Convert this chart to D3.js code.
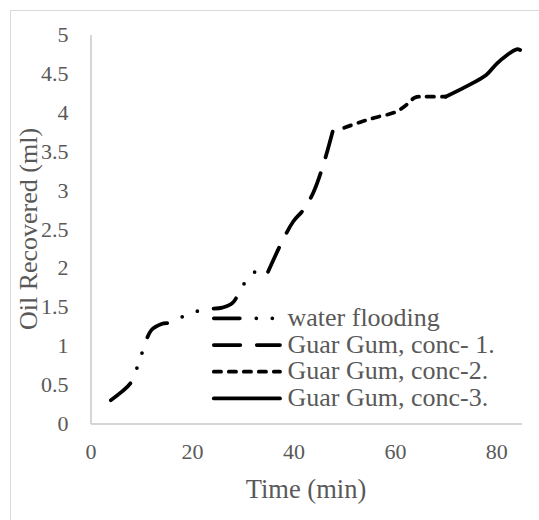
<!DOCTYPE html>
<html><head><meta charset="utf-8">
<script src="https://cdn.jsdelivr.net/npm/d3@7"></script>
<style>
html,body{margin:0;padding:0;background:#fff;}
svg{display:block;}
text{font-family:"Liberation Serif","Times New Roman",serif;fill:#595959;}
</style></head>
<body>
<script>
// ---- data ----
const seriesNames = ["water flooding", "Guar Gum, conc- 1.", "Guar Gum, conc-2.", "Guar Gum, conc-3."];
const waterTime = [4, 6, 8, 10, 12, 14, 16, 18, 22, 26, 28, 30, 32, 34];
const waterOil  = [0.3, 0.4, 0.53, 0.88, 1.2, 1.28, 1.3, 1.37, 1.46, 1.49, 1.55, 1.77, 1.93, 2.0];
const conc1Time = [35, 38, 40, 42, 44, 46, 48];
const conc1Oil  = [1.95, 2.37, 2.6, 2.75, 2.98, 3.35, 3.82];
const conc2Time = [50, 53, 56, 60, 62, 64, 66, 70];
const conc2Oil  = [3.8, 3.87, 3.93, 4.0, 4.08, 4.19, 4.2, 4.2];
const conc3Time = [70, 74, 78, 80, 82, 84, 84.7];
const conc3Oil  = [4.2, 4.33, 4.48, 4.62, 4.73, 4.81, 4.8];
const xTicks = [0, 20, 40, 60, 80];
const yTicks = [0, 0.5, 1, 1.5, 2, 2.5, 3, 3.5, 4, 4.5, 5];
const xTitle = "Time (min)";
const yTitle = "Oil Recovered (ml)";

// ---- layout ----
const W = 539, H = 520;
const pLeft = 90.5, pRight = 521.7, pTop = 34.5, pBottom = 423.5;
const dashes = ["26,16.5,0,16,0,16.5", "26.5,16.5", "7.25,7.75", null];
const sw = 3.75;
const serif = "'Liberation Serif','Times New Roman',serif";

const svg = d3.select("body").append("svg").attr("width", W).attr("height", H);
svg.append("rect").attr("x", 10.5).attr("y", 10.5).attr("width", 560).attr("height", 560)
  .attr("fill", "#fff").attr("stroke", "#d9d9d9").attr("stroke-width", 1);

const x = d3.scaleLinear().domain([0, 85]).range([pLeft, pRight]);
const y = d3.scaleLinear().domain([0, 5]).range([pBottom, pTop]);

const xAxis = svg.append("g").attr("transform", `translate(0,${pBottom})`)
  .call(d3.axisBottom(x).tickValues(xTicks).tickSize(0).tickPadding(20).tickFormat(d3.format("d")));
const yAxis = svg.append("g").attr("transform", `translate(${pLeft},0)`)
  .call(d3.axisLeft(y).tickValues(yTicks).tickSize(0).tickPadding(22).tickFormat(d => String(d)));
[xAxis, yAxis].forEach(g => {
  g.attr("font-family", null).style("font-family", serif);
  g.select(".domain").attr("stroke", "#c8c8c8").attr("stroke-width", 1.5);
  g.selectAll("text").style("font-family", serif).attr("font-size", 22).attr("fill", "#595959");
});

svg.append("text").attr("x", 306).attr("y", 497.5).attr("text-anchor", "middle")
  .style("font-family", serif).attr("font-size", 26.5).text(xTitle);
svg.append("text").attr("transform", `translate(36.5,${(pTop + pBottom) / 2}) rotate(-90)`)
  .style("font-family", serif).attr("text-anchor", "middle").attr("font-size", 26).text(yTitle);

const series = [
  {t: waterTime, v: waterOil},
  {t: conc1Time, v: conc1Oil},
  {t: conc2Time, v: conc2Oil},
  {t: conc3Time, v: conc3Oil}
];
const line = d3.line().x(d => x(d[0])).y(d => y(d[1])).curve(d3.curveCatmullRom.alpha(0.5));
series.forEach((s, i) => {
  const pts = s.t.map((t, j) => [t, s.v[j]]);
  svg.append("path").attr("d", line(pts)).attr("fill", "none").attr("stroke", "#000")
    .attr("stroke-width", sw).attr("stroke-linecap", "round").attr("stroke-linejoin", "round")
    .attr("stroke-dasharray", dashes[i]);
});

// legend
const lg = svg.append("g");
seriesNames.forEach((name, i) => {
  const yy = 318.3 + i * 26.7;
  lg.append("line").attr("x1", 213.8).attr("x2", 280).attr("y1", yy).attr("y2", yy)
    .attr("stroke", "#000").attr("stroke-width", sw).attr("stroke-linecap", "round")
    .attr("stroke-dasharray", dashes[i]);
  lg.append("text").attr("x", 287.5).attr("y", yy + 7.5).style("font-family", serif)
    .attr("font-size", 26).text(name);
});
</script>
</body></html>
